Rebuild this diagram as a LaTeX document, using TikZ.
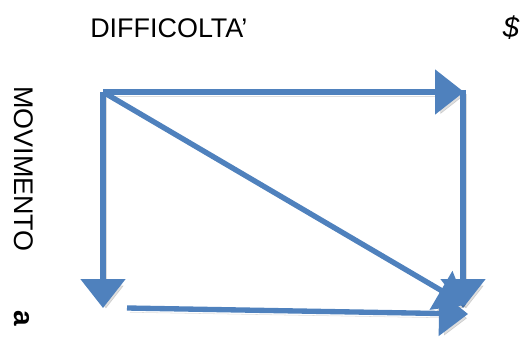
\documentclass[tikz,border=0pt]{standalone}
\usepackage{fontspec}
\setmainfont{Liberation Sans}
\usetikzlibrary{arrows.meta}
\definecolor{officeblue}{HTML}{4F81BD}

\begin{document}
\begin{tikzpicture}[x=0.75pt,y=0.75pt,
  vecline/.style={-{Triangle[length=21.75pt,width=33pt]},draw=officeblue,line width=4pt,
    preaction={draw=black,opacity=0.13,transform canvas={shift={(2.2pt,-3.2pt)}}}},
  lbl/.style={inner sep=0pt,font=\fontsize{20.2}{23}\selectfont}]
\useasboundingbox (0,0) rectangle (520,336);
% corner points
\coordinate (tl) at (103,244);
\coordinate (tr) at (464,244);
\coordinate (trs) at (463,246);
\coordinate (bl) at (103,28);
\coordinate (br) at (463,28);
\coordinate (dg) at (466,31);
\coordinate (bs) at (127,28);
\coordinate (be) at (468,22);
% labels
\node[lbl,anchor=base west] (diff) at (90,298) {DIFFICOLTA’};
\node[lbl,rotate=-90] (mov) at (24,167) {MOVIMENTO};
\node[lbl,rotate=-90,font=\fontsize{21}{23}\selectfont\bfseries] (avar) at (22,18) {a};
\node[lbl,font=\fontsize{22}{24}\selectfont\itshape] (dol) at (511,308) {\$};
% arrows
\draw[vecline] (tl) -- (tr);
\draw[vecline] (tl) -- (bl);
\draw[vecline] (trs) -- (br);
\draw[vecline] (tl) -- (dg);
\draw[vecline] (bs) -- (be);
\end{tikzpicture}
\end{document}
